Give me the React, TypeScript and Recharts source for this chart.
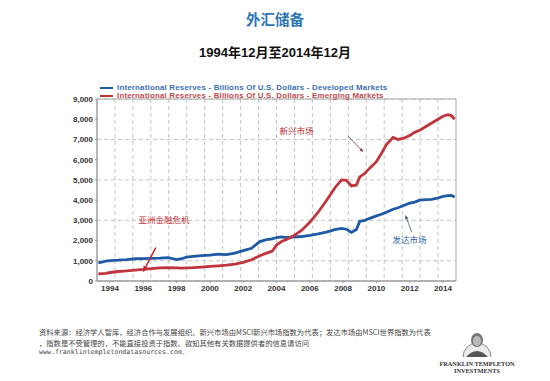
import React from 'react';
import {
  LineChart,
  Line,
  XAxis,
  YAxis,
  CartesianGrid,
  Legend,
  ReferenceLine,
  ReferenceDot,
  ReferenceArea,
} from 'recharts';

// decimal years
const dates = [
  1993.3, 1993.75, 1994, 1994.5, 1995, 1995.5, 1996, 1996.5, 1997, 1997.5, 1998, 1998.3, 1998.6,
  1999, 1999.5, 2000, 2000.5, 2001, 2001.5, 2002, 2002.5, 2003, 2003.4, 2003.75, 2004, 2004.3,
  2004.6, 2005, 2005.5, 2006, 2006.5, 2007, 2007.5, 2007.9, 2008.2, 2008.5, 2008.8, 2009, 2009.3,
  2009.6, 2010, 2010.3, 2010.6, 2011, 2011.3, 2011.6, 2012, 2012.3, 2012.6, 2013, 2013.3, 2013.6,
  2014, 2014.3, 2014.5, 2014.7,
];

// billions of USD
const developed = [
  900, 980, 1010, 1030, 1060, 1100, 1110, 1120, 1130, 1160, 1060, 1100, 1180,
  1220, 1250, 1280, 1330, 1300, 1380, 1500, 1620, 1950, 2050, 2080, 2150, 2180,
  2150, 2170, 2200, 2260, 2330, 2420, 2540, 2600, 2560, 2400, 2550, 2950, 3000,
  3100, 3220, 3300, 3400, 3550, 3620, 3720, 3850, 3900, 4000, 4020, 4040, 4080,
  4180, 4220, 4230, 4150,
];

const emerging = [
  350, 380, 420, 470, 500, 540, 570, 610, 650, 660, 650, 640, 650,
  660, 690, 720, 750, 780, 830, 920, 1050, 1250, 1380, 1480, 1780, 1950,
  2050, 2220, 2500, 2900, 3400, 3980, 4600, 5000, 4980, 4700, 4750, 5150, 5320,
  5580, 5900, 6300, 6750, 7100, 7000, 7050, 7200, 7350, 7450, 7650, 7800, 7950,
  8150, 8220, 8180, 8000,
];

const yearTicks = [1994, 1996, 1998, 2000, 2002, 2004, 2006, 2008, 2010, 2012, 2014];
const valueTicks = [0, 1000, 2000, 3000, 4000, 5000, 6000, 7000, 8000, 9000];

const developedName = 'International Reserves - Billions Of U.S. Dollars - Developed Markets';
const emergingName = 'International Reserves - Billions Of U.S. Dollars - Emerging Markets';

const data = dates.map((d, i) => ({ date: d, developed: developed[i], emerging: emerging[i] }));

const BLUE = '#1f5aa6';
const RED = '#c0343c';
const FONT = '"Liberation Sans", Arial, sans-serif';
const CJK = '"Noto Sans CJK SC", sans-serif';

const arrow = (color: string, width: number, head: number) => (p: any) => {
  const { x1, y1, x2, y2 } = p;
  const a = Math.atan2(y2 - y1, x2 - x1);
  const ax = x2 - head * Math.cos(a - 0.45);
  const ay = y2 - head * Math.sin(a - 0.45);
  const bx = x2 - head * Math.cos(a + 0.45);
  const by = y2 - head * Math.sin(a + 0.45);
  return (
    <g>
      <line x1={x1} y1={y1} x2={x2} y2={y2} stroke={color} strokeWidth={width} />
      <polygon points={`${x2},${y2} ${ax},${ay} ${bx},${by}`} fill={color} />
    </g>
  );
};

const label = (text: string, color: string) => (p: any) => (
  <text x={p.cx} y={p.cy} textAnchor="middle" dominantBaseline="central" fontSize={8.5} fill={color} fontFamily={CJK}>
    {text}
  </text>
);

const renderLegend = () => (
  <div style={{ fontFamily: FONT, fontSize: 7.9, fontWeight: 'bold', lineHeight: '8px' }}>
    {[
      { name: developedName, color: BLUE, text: '#3d6fb5' },
      { name: emergingName, color: RED, text: '#c04a50' },
    ].map((e) => (
      <div key={e.name} style={{ display: 'flex', alignItems: 'center' }}>
        <span style={{ display: 'inline-block', width: 13, height: 2.5, background: e.color, marginRight: 4 }} />
        <span style={{ color: e.text, letterSpacing: 0.2 }}>{e.name}</span>
      </div>
    ))}
  </div>
);

const Logo = () => (
  <div style={{ position: 'absolute', left: 436, top: 327, width: 82, textAlign: 'center' }}>
    <svg width={32} height={31} viewBox="0 0 32 31" style={{ display: 'block', margin: '0 auto' }}>
      <path d="M2 30 A14 14 0 1 1 30 30" fill="#ececec" stroke="#888" strokeWidth={1} />
      <ellipse cx={16} cy={13} rx={6} ry={7} fill="#777" />
      <ellipse cx={16} cy={14} rx={4} ry={5} fill="#bbb" />
      <path d="M5 30 Q16 18 27 30" fill="#555" />
    </svg>
    <div style={{ fontFamily: '"Liberation Serif", serif', fontSize: 6.3, fontWeight: 'bold', color: '#333', lineHeight: '7px', marginTop: 2 }}>
      FRANKLIN TEMPLETON
      <br />
      INVESTMENTS
    </div>
  </div>
);

export default function App() {
  return (
    <div style={{ position: 'absolute', left: 0, top: 0, width: 550, height: 381, background: '#fff', overflow: 'hidden' }}>
      <div style={{ position: 'absolute', top: 8, width: 550, textAlign: 'center', fontFamily: CJK, fontSize: 14.5, fontWeight: 'bold', color: '#2e75b6' }}>
        外汇储备
      </div>
      <div style={{ position: 'absolute', top: 42, width: 550, textAlign: 'center', fontFamily: FONT, fontSize: 13, fontWeight: 'bold', color: '#111' }}>
        1994<span style={{ fontFamily: CJK }}>年</span>12<span style={{ fontFamily: CJK }}>月至</span>2014<span style={{ fontFamily: CJK }}>年</span>12<span style={{ fontFamily: CJK }}>月</span>
      </div>

      <div style={{ position: 'absolute', left: 0, top: 0 }}>
        <LineChart width={550} height={300} data={data} margin={{ top: 83, right: 94, bottom: 0, left: 0 }}>
          <CartesianGrid
            stroke="#c4c4c4"
            strokeDasharray="4 3"
            verticalCoordinatesGenerator={({ offset }: any) =>
              Array.from({ length: 19 }, (_, i) => offset.left + (offset.width * (i + 1)) / 20)
            }
          />
          <ReferenceArea x1={1993.22} x2={2014.78} y1={0} y2={9000} fill="none" stroke="#a8a8a8" strokeWidth={1} />
          <XAxis
            dataKey="date"
            type="number"
            domain={[1993.22, 2014.78]}
            ticks={yearTicks}
            allowDataOverflow
            height={19}
            axisLine={{ stroke: '#999' }}
            tickLine={{ stroke: '#999' }}
            tickSize={2}
            tickMargin={2}
            tick={{ fontSize: 8, fontWeight: 'bold', fill: '#333', fontFamily: FONT }}
          />
          <YAxis
            type="number"
            domain={[0, 9000]}
            ticks={valueTicks}
            width={97}
            axisLine={{ stroke: '#999' }}
            tickLine={{ stroke: '#999' }}
            tickSize={2}
            tickMargin={2}
            tickFormatter={(v: number) => v.toLocaleString('en-US')}
            tick={{ fontSize: 8, fontWeight: 'bold', fill: '#333', fontFamily: FONT }}
          />
          <Legend
            verticalAlign="top"
            align="left"
            content={renderLegend}
            wrapperStyle={{ top: 84, left: 100, width: 340 }}
          />
          <Line dataKey="developed" name={developedName} type="linear" stroke={BLUE} strokeWidth={2.8} dot={false} isAnimationActive={false} />
          <Line dataKey="emerging" name={emergingName} type="linear" stroke={RED} strokeWidth={2.8} dot={false} isAnimationActive={false} />

          <ReferenceLine segment={[{ x: 1996.75, y: 1650 }, { x: 1996.0, y: 470 }]} shape={arrow('#c0282e', 1.5, 6)} />
          <ReferenceLine segment={[{ x: 2008.29, y: 7170 }, { x: 2009.2, y: 6390 }]} shape={arrow('#8a3a3a', 0.8, 4)} />
          <ReferenceLine segment={[{ x: 2012.12, y: 2420 }, { x: 2011.75, y: 3240 }]} shape={arrow('#3d5a7a', 0.8, 4)} />

          <ReferenceDot x={1997.25} y={3060} r={0} shape={label('亚洲金融危机', '#c0343c')} />
          <ReferenceDot x={2005.2} y={7490} r={0} shape={label('新兴市场', '#b8282e')} />
          <ReferenceDot x={2011.99} y={2100} r={0} shape={label('发达市场', '#2e64a8')} />
        </LineChart>
      </div>

      <div style={{ position: 'absolute', left: 39, top: 327, fontFamily: CJK, fontSize: 7.3, color: '#444', whiteSpace: 'nowrap' }}>
        <div style={{ height: 10, lineHeight: '10px' }}>资料来源：经济学人智库，经济合作与发展组织。新兴市场由MSCI新兴市场指数为代表；发达市场由MSCI世界指数为代表</div>
        <div style={{ height: 10, lineHeight: '10px', marginTop: 1 }}>，指数是不受管理的，不能直接投资于指数。欲知其他有关数据提供者的信息请访问</div>
        <div style={{ fontFamily: '"DejaVu Sans Mono", monospace', fontSize: 6.6, lineHeight: '9px' }}>www.franklintempletondatasources.com。</div>
      </div>
      <Logo />
    </div>
  );
}
